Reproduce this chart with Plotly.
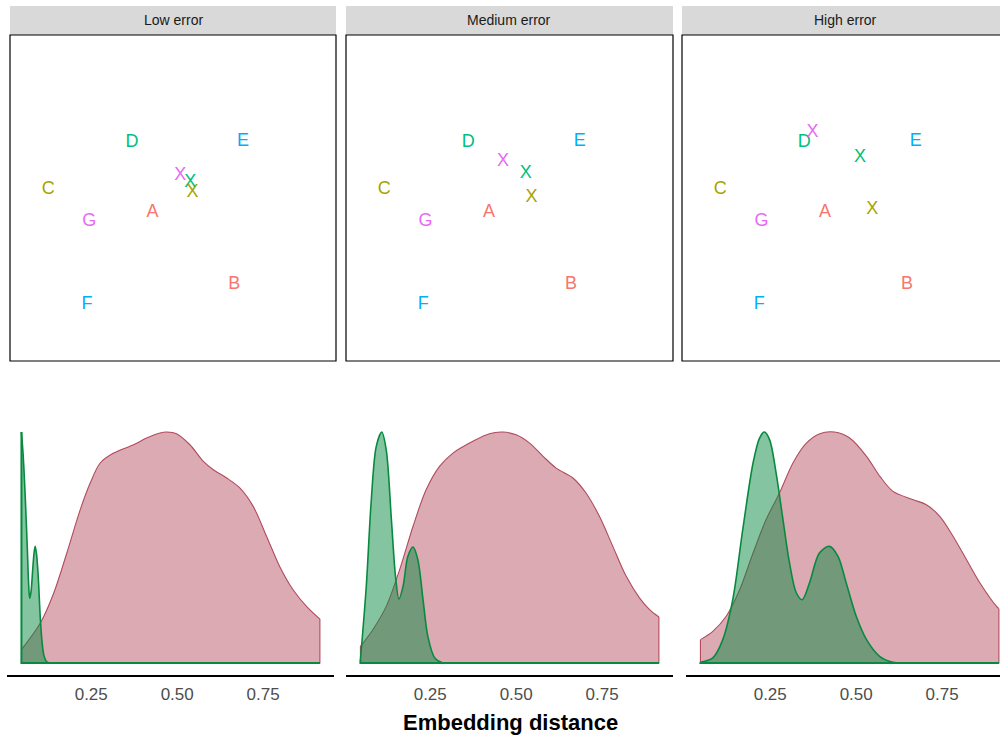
import plotly.graph_objects as go

# ---------------- data ----------------
panels = ["Low error", "Medium error", "High error"]

letters = ["A", "B", "C", "D", "E", "F", "G"]
letter_x = [0.437, 0.688, 0.117, 0.374, 0.715, 0.236, 0.243]
letter_y = [0.463, 0.242, 0.534, 0.676, 0.681, 0.181, 0.436]
letter_col = ["#F8766D", "#F8766D", "#A3A500", "#00BF7D", "#00B0F6", "#00B0F6", "#E76BF3"]

x_col = ["#E76BF3", "#00BF7D", "#A3A500"]
x_pos_x = {
    "Low error": [0.522, 0.553, 0.560],
    "Medium error": [0.480, 0.550, 0.567],
    "High error": [0.399, 0.544, 0.582],
}
x_pos_y = {
    "Low error": [0.576, 0.555, 0.525],
    "Medium error": [0.619, 0.581, 0.509],
    "High error": [0.709, 0.631, 0.473],
}

red_x = {
    "Low error": [0.047, 0.102, 0.141, 0.179, 0.218, 0.247, 0.276, 0.315, 0.373, 0.411, 0.450, 0.470,
                  0.498, 0.537, 0.576, 0.605, 0.644, 0.682, 0.721, 0.760, 0.798, 0.837, 0.876, 0.915],
    "Medium error": [0.047, 0.083, 0.122, 0.161, 0.200, 0.238, 0.277, 0.316, 0.374, 0.422, 0.461, 0.500,
                     0.539, 0.578, 0.616, 0.665, 0.703, 0.742, 0.781, 0.820, 0.859, 0.888, 0.915],
    "High error": [0.047, 0.083, 0.122, 0.161, 0.200, 0.238, 0.277, 0.316, 0.355, 0.394, 0.437, 0.481,
                   0.530, 0.569, 0.607, 0.666, 0.704, 0.743, 0.782, 0.821, 0.860, 0.908, 0.915],
}
red_y = {
    "Low error": [0.058, 0.173, 0.303, 0.476, 0.664, 0.779, 0.866, 0.909, 0.945, 0.974, 0.996, 1.000,
                  0.993, 0.945, 0.873, 0.837, 0.801, 0.758, 0.678, 0.548, 0.418, 0.317, 0.245, 0.190],
    "Medium error": [0.072, 0.144, 0.245, 0.404, 0.592, 0.750, 0.851, 0.909, 0.960, 0.993, 1.000, 0.988,
                     0.952, 0.895, 0.844, 0.801, 0.736, 0.635, 0.505, 0.375, 0.281, 0.231, 0.199],
    "High error": [0.101, 0.137, 0.202, 0.317, 0.476, 0.621, 0.736, 0.866, 0.952, 0.993, 1.000, 0.974,
                   0.895, 0.808, 0.743, 0.707, 0.685, 0.635, 0.548, 0.447, 0.346, 0.245, 0.235],
}
green_x = {
    "Low error": [0.047, 0.052, 0.058, 0.064, 0.068, 0.071, 0.075, 0.080, 0.084, 0.087, 0.091, 0.096,
                  0.102, 0.107, 0.112, 0.120, 0.130, 0.140, 0.915],
    "Medium error": [0.047, 0.064, 0.078, 0.093, 0.109, 0.122, 0.137, 0.149, 0.159, 0.171, 0.185, 0.200,
                     0.214, 0.229, 0.243, 0.263, 0.287, 0.300, 0.915],
    "High error": [0.047, 0.083, 0.112, 0.141, 0.170, 0.200, 0.219, 0.233, 0.248, 0.267, 0.287, 0.306,
                   0.326, 0.343, 0.364, 0.393, 0.422, 0.447, 0.471, 0.500, 0.530, 0.568, 0.607, 0.640,
                   0.660, 0.915],
}
green_y = {
    "Low error": [1.000, 0.900, 0.720, 0.500, 0.340, 0.280, 0.310, 0.410, 0.480, 0.505, 0.470, 0.370,
                  0.190, 0.090, 0.035, 0.006, 0.000, 0.000, 0.000],
    "Medium error": [0.014, 0.332, 0.693, 0.938, 1.000, 0.923, 0.621, 0.375, 0.277, 0.332, 0.462, 0.502,
                     0.447, 0.274, 0.115, 0.022, 0.000, 0.000, 0.000],
    "High error": [0.003, 0.022, 0.101, 0.274, 0.577, 0.866, 0.974, 1.000, 0.967, 0.823, 0.621, 0.433,
                   0.303, 0.274, 0.346, 0.476, 0.505, 0.462, 0.346, 0.202, 0.101, 0.029, 0.003, 0.000,
                   0.000, 0.000],
}

tick_vals = [0.25, 0.50, 0.75]
tick_text = ["0.25", "0.50", "0.75"]

# ---------------- layout helpers ----------------
W, H = 1000, 735
FONT = "Liberation Sans, Arial, Helvetica, sans-serif"


def px(p):
    return p / W


def py(p):
    return 1 - p / H


top_dom = [(10, 336), (346, 673), (682, 1000)]
top_full_right = [336, 673, 1009]
bot_dom = [(7, 334), (346, 673), (686, 1000)]
units_per_px = 0.951 / 327

RED_LINE = "#B24A5E"
RED_FILL = "rgba(178,74,94,0.47)"
GREEN_LINE = "#078A3F"
GREEN_FILL = "rgba(10,138,66,0.50)"

fig = go.Figure()
layout = dict(
    width=W, height=H, margin=dict(l=0, r=0, t=0, b=0),
    paper_bgcolor="white", plot_bgcolor="white", showlegend=False,
    font=dict(family=FONT),
)
shapes = []
annotations = []

for i, name in enumerate(panels):
    tx = 2 * i + 1
    bx = 2 * i + 2
    txa = "x" if tx == 1 else f"x{tx}"
    tya = "y" if tx == 1 else f"y{tx}"
    bxa = f"x{bx}"
    bya = f"y{bx}"

    # --- top embedding panel ---
    l, r = top_dom[i]
    width_full = top_full_right[i] - l
    xr = [0, (r - l) / width_full]
    layout["xaxis" if tx == 1 else f"xaxis{tx}"] = dict(
        domain=[px(l), px(r)], range=xr, anchor=tya, visible=False)
    layout["yaxis" if tx == 1 else f"yaxis{tx}"] = dict(
        domain=[py(361), py(35)], range=[0.007, 1.007], anchor=txa, visible=False)

    fig.add_trace(go.Scatter(
        x=letter_x, y=letter_y, text=letters, mode="text",
        textfont=dict(size=18, color=letter_col, family=FONT),
        xaxis=txa, yaxis=tya, hoverinfo="skip"))
    fig.add_trace(go.Scatter(
        x=x_pos_x[name], y=x_pos_y[name], text=["X"] * 3, mode="text",
        textfont=dict(size=18, color=x_col, family=FONT),
        xaxis=txa, yaxis=tya, hoverinfo="skip"))

    # strip
    shapes.append(dict(type="rect", xref="paper", yref="paper",
                       x0=px(l), x1=px(top_full_right[i]), y0=py(35), y1=py(6),
                       fillcolor="#D9D9D9", line=dict(width=0), layer="below"))
    annotations.append(dict(text=name, xref="paper", yref="paper",
                            x=px((l + top_full_right[i]) / 2), y=py(20.5),
                            showarrow=False, font=dict(size=14, color="#1A1A1A", family=FONT),
                            xanchor="center", yanchor="middle"))
    # border
    shapes.append(dict(type="rect", xref="paper", yref="paper",
                       x0=px(l), x1=px(top_full_right[i]), y0=py(361), y1=py(35),
                       line=dict(color="black", width=1.2), fillcolor="rgba(0,0,0,0)"))

    # --- bottom density panel ---
    bl, br = bot_dom[i]
    x_min = 0.005
    x_max = x_min + (br - bl) * units_per_px
    layout[f"xaxis{bx}"] = dict(
        domain=[px(bl), px(br)], range=[x_min, x_max], anchor=bya,
        showgrid=False, zeroline=False, showline=True, linecolor="black", linewidth=1.6,
        ticks="", tickvals=tick_vals, ticktext=tick_text,
        tickfont=dict(size=17, color="#4D4D4D", family=FONT), ticklabelstandoff=3)
    layout[f"yaxis{bx}"] = dict(
        domain=[py(674.5), py(420.5)], range=[-0.05, 1.05], anchor=bxa,
        visible=False)

    rx, ry = red_x[name], red_y[name]
    gx, gy = green_x[name], green_y[name]

    # red density
    fig.add_trace(go.Scatter(
        x=rx, y=ry, mode="lines", fill="tozeroy", fillcolor=RED_FILL,
        line=dict(color=RED_LINE, width=1.1, shape="spline", smoothing=0.9),
        xaxis=bxa, yaxis=bya, hoverinfo="skip"))
    fig.add_trace(go.Scatter(
        x=[rx[0], rx[0], rx[-1], rx[-1]], y=[ry[0], 0, 0, ry[-1]], mode="lines",
        line=dict(color=RED_LINE, width=1.1),
        xaxis=bxa, yaxis=bya, hoverinfo="skip"))
    # green density
    fig.add_trace(go.Scatter(
        x=gx, y=gy, mode="lines", fill="tozeroy", fillcolor=GREEN_FILL,
        line=dict(color=GREEN_LINE, width=1.6, shape="spline", smoothing=0.9),
        xaxis=bxa, yaxis=bya, hoverinfo="skip"))
    fig.add_trace(go.Scatter(
        x=[gx[0], gx[0], gx[-1], gx[-1]], y=[gy[0], 0, 0, gy[-1]], mode="lines",
        line=dict(color=GREEN_LINE, width=2.0),
        xaxis=bxa, yaxis=bya, hoverinfo="skip"))

annotations.append(dict(text="<b>Embedding distance</b>", xref="paper", yref="paper",
                        x=px(510), y=py(722), showarrow=False,
                        font=dict(size=22, color="black", family=FONT),
                        xanchor="center", yanchor="middle"))

layout["shapes"] = shapes
layout["annotations"] = annotations
fig.update_layout(**layout)

fig.write_html("out.html", config={"displayModeBar": False},
               post_script="document.body.style.margin='0px';")
